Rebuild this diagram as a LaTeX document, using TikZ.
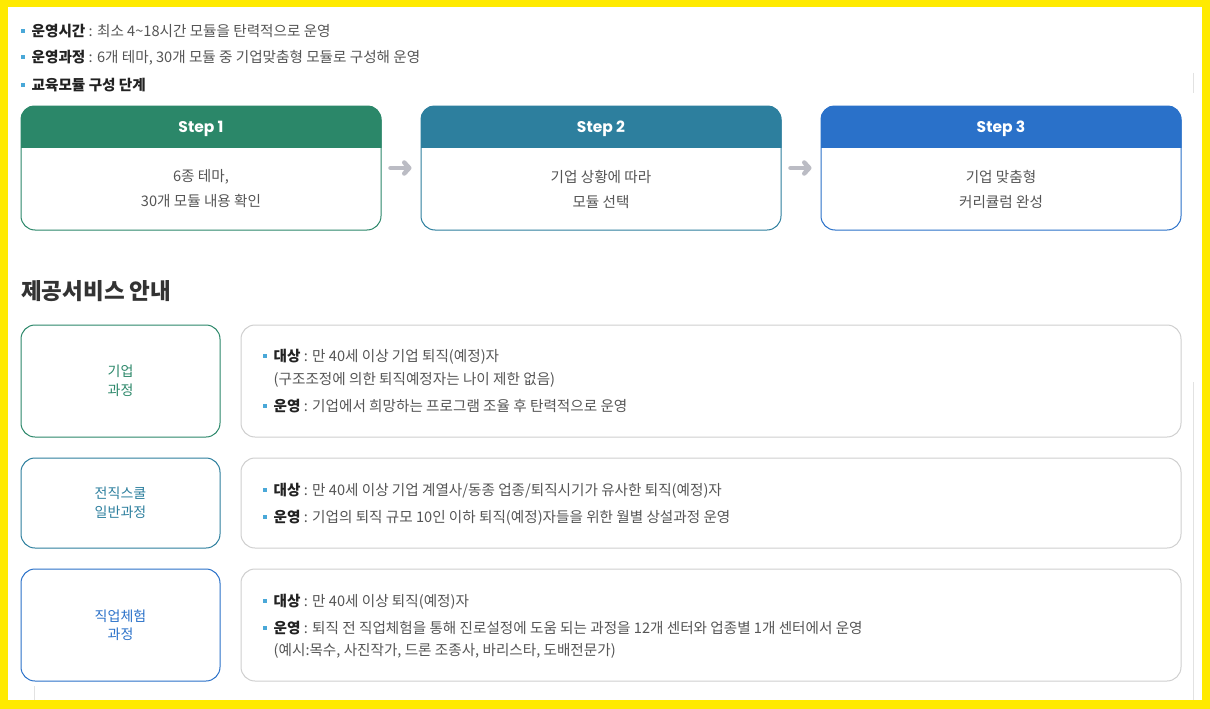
\documentclass[tikz,border=0pt]{standalone}
\usepackage{fontspec}
\setmainfont{Noto Sans CJK KR}
\newfontfamily\stepfont{Poppins}
\usetikzlibrary{positioning,arrows.meta}

\definecolor{frameyel}{HTML}{FFEA00}
\definecolor{stepgreen}{HTML}{2B8769}
\definecolor{stepteal}{HTML}{2D7F9E}
\definecolor{stepblue}{HTML}{2A71C9}
\definecolor{arrowgray}{HTML}{BBBCC4}
\definecolor{boxgray}{HTML}{CFCFCF}
\definecolor{faintgray}{HTML}{E2E2E2}
\definecolor{bulletblue}{HTML}{4AA8D8}
\definecolor{labeldark}{HTML}{222222}
\definecolor{bodygray}{HTML}{555555}
\definecolor{headdark}{HTML}{333333}

\newcommand{\bul}{\textcolor{bulletblue}{\rule[0.25em]{3.5pt}{3.5pt}}\hspace{7pt}}
\newcommand{\lbl}[1]{\textbf{\textcolor{labeldark}{#1}}}

\tikzset{
  stepbox/.style={draw, line width=1pt, rounded corners=14pt, minimum width=360pt, minimum height=124pt, inner sep=0pt},
  steptitle/.style={text=white, inner sep=0pt, text height=11pt, text depth=0pt, font=\stepfont\bfseries\fontsize{15.5}{17}\selectfont},
  stepbody/.style={text=bodygray, align=center, inner sep=0pt, font=\fontsize{14.6}{25}\selectfont},
  steparrow/.style={arrowgray, line width=4.5pt, line cap=round, -{Straight Barb[length=5pt, width=11pt, line cap=round, line join=round]}},
  textline/.style={anchor=west, inner sep=0pt, text=bodygray, font=\fontsize{14.6}{17}\selectfont, text height=12.3pt, text depth=1.5pt},
  svcbox/.style={draw, line width=1pt, rounded corners=14pt, minimum width=199pt, minimum height=112pt, align=center, font=\fontsize{14}{18.5}\selectfont},
  infobox/.style={draw=boxgray, line width=1pt, rounded corners=14pt, minimum width=940pt, minimum height=112pt},
  faintline/.style={faintgray, line width=1pt}
}

\begin{document}
\begin{tikzpicture}[x=1pt, y=-1pt]

    % Frame
    \useasboundingbox (0,0) rectangle (1210,709);
    \fill[frameyel] (0,0) rectangle (1210,709);
    \fill[white] (8,7) rectangle (1202,700);
    \draw[faintline] (1193,73) -- (1193,93);
    \draw[faintline] (1193,382) -- (1193,700);
    \draw[faintline] (34,686) -- (34,700);

    % Top notes
    \node[textline] (time) at (21,31) {\bul\lbl{운영시간} : 최소 4\textasciitilde18시간 모듈을 탄력적으로 운영};
    \node[textline] (course) at (21,57) {\bul\lbl{운영과정} : 6개 테마, 30개 모듈 중 기업맞춤형 모듈로 구성해 운영};
    \node[textline] (stages) at (21,85) {\bul\lbl{교육모듈 구성 단계}};

    % Step boxes
    \node[stepbox, draw=stepgreen] (s1) at (201,168) {};
    \node[stepbox, draw=stepteal] (s2) at (601,168) {};
    \node[stepbox, draw=stepblue] (s3) at (1001,168) {};

    % Step headers
    \begin{scope}
      \clip[rounded corners=14pt] (s1.north west) rectangle (s1.south east);
      \fill[stepgreen] (s1.north west) rectangle ([yshift=-42pt]s1.north east);
    \end{scope}
    \begin{scope}
      \clip[rounded corners=14pt] (s2.north west) rectangle (s2.south east);
      \fill[stepteal] (s2.north west) rectangle ([yshift=-42pt]s2.north east);
    \end{scope}
    \begin{scope}
      \clip[rounded corners=14pt] (s3.north west) rectangle (s3.south east);
      \fill[stepblue] (s3.north west) rectangle ([yshift=-42pt]s3.north east);
    \end{scope}

    \node[steptitle] (t1) at (201,127) {Step 1};
    \node[steptitle] (t2) at (601,127) {Step 2};
    \node[steptitle] (t3) at (1001,127) {Step 3};

    \node[stepbody] (b1) at (201,189) {6종 테마,\\30개 모듈 내용 확인};
    \node[stepbody] (b2) at (601,189) {기업 상황에 따라\\모듈 선택};
    \node[stepbody] (b3) at (1001,189) {기업 맞춤형\\커리큘럼 완성};

    % Step arrows
    \draw[steparrow] ([xshift=9pt]s1.east) -- ([xshift=-9pt]s2.west);
    \draw[steparrow] ([xshift=9pt]s2.east) -- ([xshift=-9pt]s3.west);

    % Service heading
    \node[anchor=west, inner sep=0pt, text=headdark, font=\bfseries\fontsize{22.5}{25}\selectfont, text height=18.7pt, text depth=2.5pt] (svchead) at (21,291) {제공서비스 안내};

    % Service rows
    \node[svcbox, draw=stepgreen, text=stepgreen] (c1) at (120.5,381) {기업\\과정};
    \node[infobox] (d1) at (711,381) {};
    \node[svcbox, draw=stepteal, text=stepteal, minimum height=90pt] (c2) at (120.5,503) {전직스쿨\\일반과정};
    \node[infobox, minimum height=90pt] (d2) at (711,503) {};
    \node[svcbox, draw=stepblue, text=stepblue] (c3) at (120.5,625) {직업체험\\과정};
    \node[infobox] (d3) at (711,625) {};

    % Row 1 text
    \node[textline] (r1a) at (263,356) {\bul\lbl{대상} : 만 40세 이상 기업 퇴직(예정)자};
    \node[textline] (r1b) at (273.5,379) {(구조조정에 의한 퇴직예정자는 나이 제한 없음)};
    \node[textline] (r1c) at (263,406) {\bul\lbl{운영} : 기업에서 희망하는 프로그램 조율 후 탄력적으로 운영};

    % Row 2 text
    \node[textline] (r2a) at (263,490) {\bul\lbl{대상} : 만 40세 이상 기업 계열사/동종 업종/퇴직시기가 유사한 퇴직(예정)자};
    \node[textline] (r2b) at (263,517) {\bul\lbl{운영} : 기업의 퇴직 규모 10인 이하 퇴직(예정)자들을 위한 월별 상설과정 운영};

    % Row 3 text
    \node[textline] (r3a) at (263,601) {\bul\lbl{대상} : 만 40세 이상 퇴직(예정)자};
    \node[textline] (r3b) at (263,628) {\bul\lbl{운영} : 퇴직 전 직업체험을 통해 진로설정에 도움 되는 과정을 12개 센터와 업종별 1개 센터에서 운영};
    \node[textline] (r3c) at (273.5,650) {(예시:목수, 사진작가, 드론 조종사, 바리스타, 도배전문가)};

\end{tikzpicture}
\end{document}
